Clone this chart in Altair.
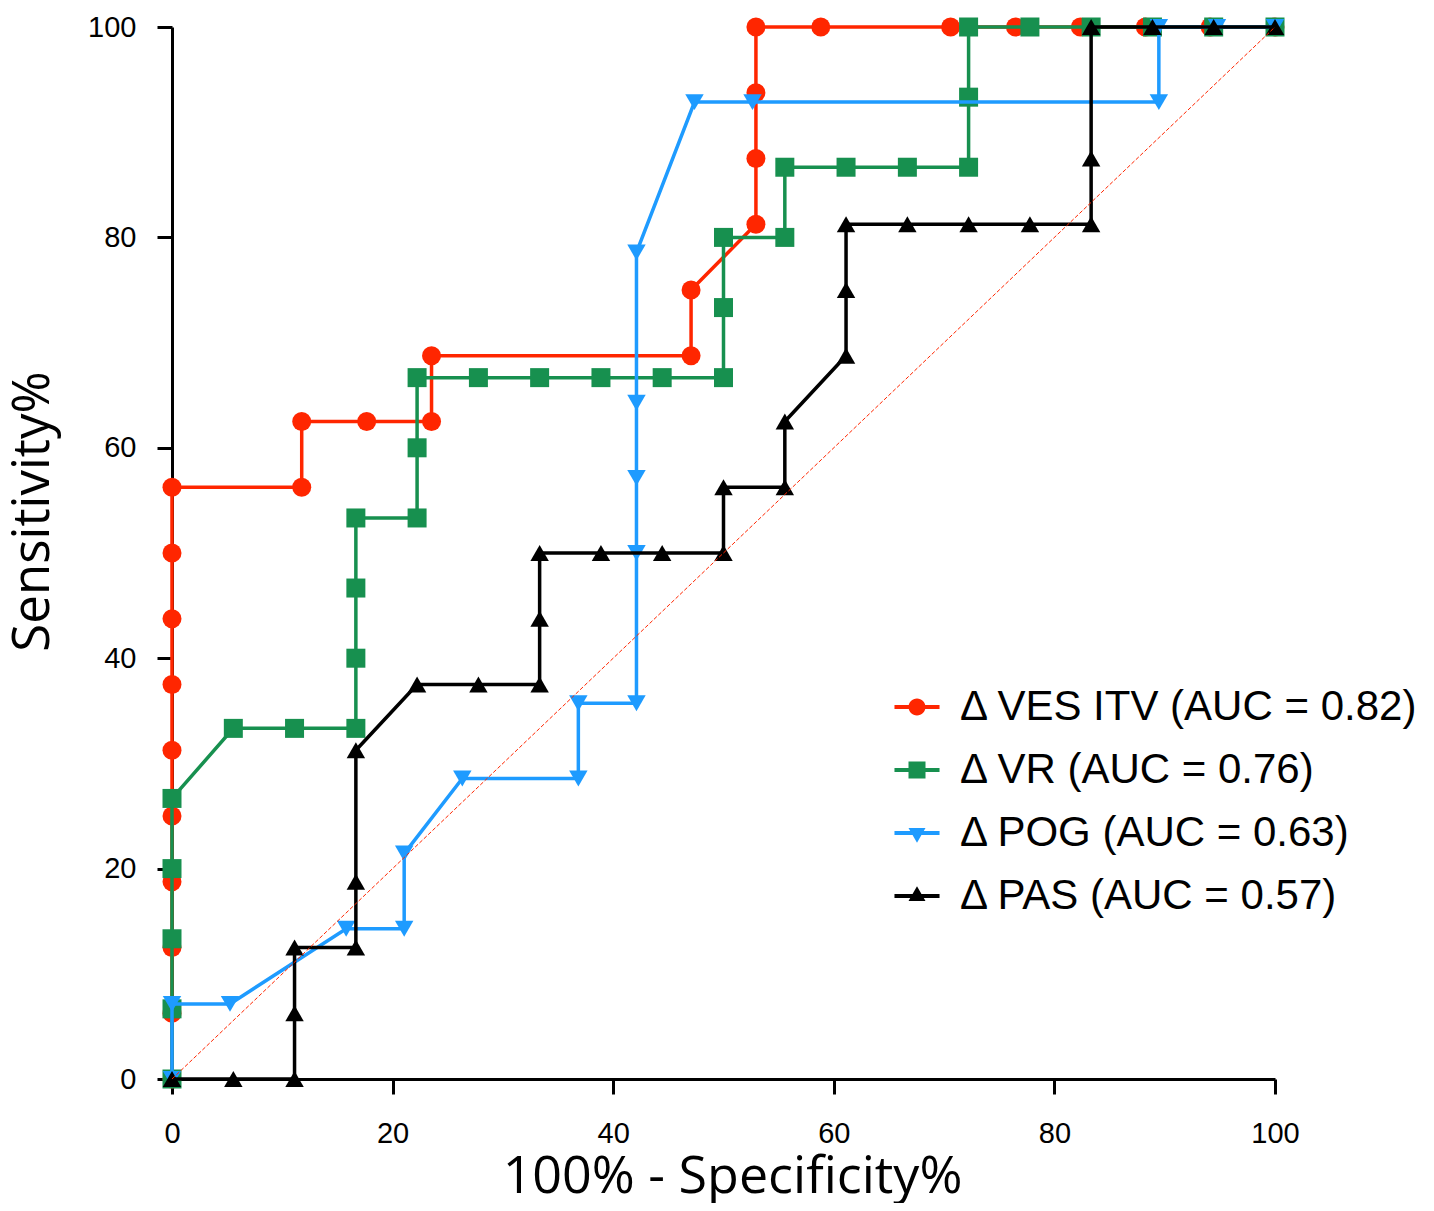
import altair as alt
import pandas as pd

# ---------------- data ----------------
series_names = [
    "Δ VES ITV (AUC = 0.82)",
    "Δ VR (AUC = 0.76)",
    "Δ POG (AUC = 0.63)",
    "Δ PAS (AUC = 0.57)",
]
series_colors = ["#FF2600", "#17904F", "#1E9BFF", "#000000"]
series_shapes = ["circle", "square", "triangle-down", "triangle-up"]

ves_x = [0, 0, 0, 0, 0, 0, 0, 0, 0, 0, 11.76, 11.76, 17.65, 23.53, 23.53, 47.06, 47.06,
         52.94, 52.94, 52.94, 52.94, 58.82, 70.59, 76.47, 82.35, 88.24, 94.12, 100]
ves_y = [0, 6.25, 12.5, 18.75, 25, 31.25, 37.5, 43.75, 50, 56.25, 56.25, 62.5, 62.5, 62.5, 68.75, 68.75, 75,
         81.25, 87.5, 93.75, 100, 100, 100, 100, 100, 100, 100, 100]

vr_x = [0, 0, 0, 0, 0, 5.56, 11.11, 16.67, 16.67, 16.67, 16.67, 22.22, 22.22, 22.22, 27.78, 33.33, 38.89,
        44.44, 50, 50, 50, 55.56, 55.56, 61.11, 66.67, 72.22, 72.22, 72.22, 77.78, 83.33, 88.89, 94.44, 100]
vr_y = [0, 6.67, 13.33, 20, 26.67, 33.33, 33.33, 33.33, 40, 46.67, 53.33, 53.33, 60, 66.67, 66.67, 66.67, 66.67,
        66.67, 66.67, 73.33, 80, 80, 86.67, 86.67, 86.67, 86.67, 93.33, 100, 100, 100, 100, 100, 100]

pog_x = [0, 0, 5.26, 15.79, 21.05, 21.05, 26.32, 36.84, 36.84, 42.11, 42.11, 42.11, 42.11, 42.11,
         47.37, 52.63, 89.47, 89.47, 94.74, 100]
pog_y = [0, 7.14, 7.14, 14.29, 14.29, 21.43, 28.57, 28.57, 35.71, 35.71, 50, 57.14, 64.29, 78.57,
         92.86, 92.86, 92.86, 100, 100, 100]

pas_x = [0, 5.56, 11.11, 11.11, 11.11, 16.67, 16.67, 16.67, 22.22, 27.78, 33.33, 33.33, 33.33, 38.89, 44.44,
         50, 50, 55.56, 55.56, 61.11, 61.11, 61.11, 66.67, 72.22, 77.78, 83.33, 83.33, 83.33, 88.89, 94.44, 100]
pas_y = [0, 0, 0, 6.25, 12.5, 12.5, 18.75, 31.25, 37.5, 37.5, 37.5, 43.75, 50, 50, 50,
         50, 56.25, 56.25, 62.5, 68.75, 75, 81.25, 81.25, 81.25, 81.25, 81.25, 87.5, 100, 100, 100, 100]

diag_x = [0, 100]
diag_y = [0, 100]

tick_values = [0, 20, 40, 60, 80, 100]

# ---------------- tables ----------------
rows = []
for name, xs, ys in zip(series_names, [ves_x, vr_x, pog_x, pas_x], [ves_y, vr_y, pog_y, pas_y]):
    for i, (a, b) in enumerate(zip(xs, ys)):
        rows.append({"series": name, "idx": i, "x": a, "y": b})
df = pd.DataFrame(rows)
diag_df = pd.DataFrame({"x": diag_x, "y": diag_y})

# legend symbols: marker plus a short horizontal line (unit coords scaled by sqrt(size)/2)
bar = "M-2.65,-0.24H2.65V0.24H-2.65Z "
legend_paths = [
    bar + "M1,0A1,1,0,1,1,-1,0A1,1,0,1,1,1,0Z",
    bar + "M-1,-1H1V1H-1Z",
    bar + "M0,1.155L-1,-0.577L1,-0.577Z",
    bar + "M0,-1.155L1,0.577L-1,0.577Z",
]

x_enc = alt.X(
    "x:Q",
    scale=alt.Scale(domain=[0, 100], nice=False),
    axis=alt.Axis(
        values=tick_values, labelPadding=25, labelFlush=False, titleX=560, titleY=113,
        titleBaseline="alphabetic", titleAlign="center", titleFontSize=52,
    ),
    title="100% - Specificity%",
)
y_enc = alt.Y(
    "y:Q",
    scale=alt.Scale(domain=[0, 100], nice=False),
    axis=alt.Axis(
        values=tick_values, labelPadding=21, labelFlush=False, titleX=-124, titleY=484,
        titleAngle=270, titleBaseline="alphabetic", titleAlign="center", titleFontSize=51,
    ),
    title="Sensitivity%",
)

layers = []
for name, col, shp in zip(series_names, series_colors, series_shapes):
    base = alt.Chart(df).transform_filter(alt.datum.series == name)
    line = base.mark_line(color=col, strokeWidth=3.5).encode(x=x_enc, y=y_enc, order="idx:Q")
    size = 340 if shp.startswith("triangle") else 361
    pts = base.mark_point(filled=True, opacity=1, color=col, shape=shp, size=size).encode(x=x_enc, y=y_enc)
    layers += [line, pts]

diag = alt.Chart(diag_df).mark_line(color="#FF2600", strokeWidth=1, strokeDash=[4, 2]).encode(x=x_enc, y=y_enc)
layers.append(diag)

leg_props = dict(
    orient="none", legendX=724, legendY=659, padding=0, title=None,
    labelFont="Liberation Sans", labelFontSize=42, labelColor="black", labelLimit=2000,
    labelOffset=22, rowPadding=21, symbolSize=289, symbolStrokeWidth=0, symbolOpacity=1,
)
legend_layer = alt.Chart(df).transform_filter("datum.idx < 0").mark_point(filled=True, opacity=1).encode(
    x=x_enc, y=y_enc,
    color=alt.Color("series:N", scale=alt.Scale(domain=series_names, range=series_colors),
                    legend=alt.Legend(**leg_props)),
    shape=alt.Shape("series:N", scale=alt.Scale(domain=series_names, range=legend_paths),
                    legend=alt.Legend(**leg_props)),
)
layers.append(legend_layer)

chart = alt.layer(*layers).properties(
    width=1103, height=1052,
    padding={"left": 164, "top": 19, "right": 145, "bottom": 124},
    autosize=alt.AutoSizeParams(type="none"),
).configure_view(stroke=None).configure_axis(
    grid=False,
    domainColor="black", domainWidth=3,
    tickColor="black", tickWidth=3, tickSize=15,
    labelFont="Liberation Sans", labelFontSize=29, labelColor="black",
    titleFont="Open Sans", titleFontWeight="normal", titleColor="black",
)

chart.save("out.html", embed_options={"renderer": "svg", "actions": False})
